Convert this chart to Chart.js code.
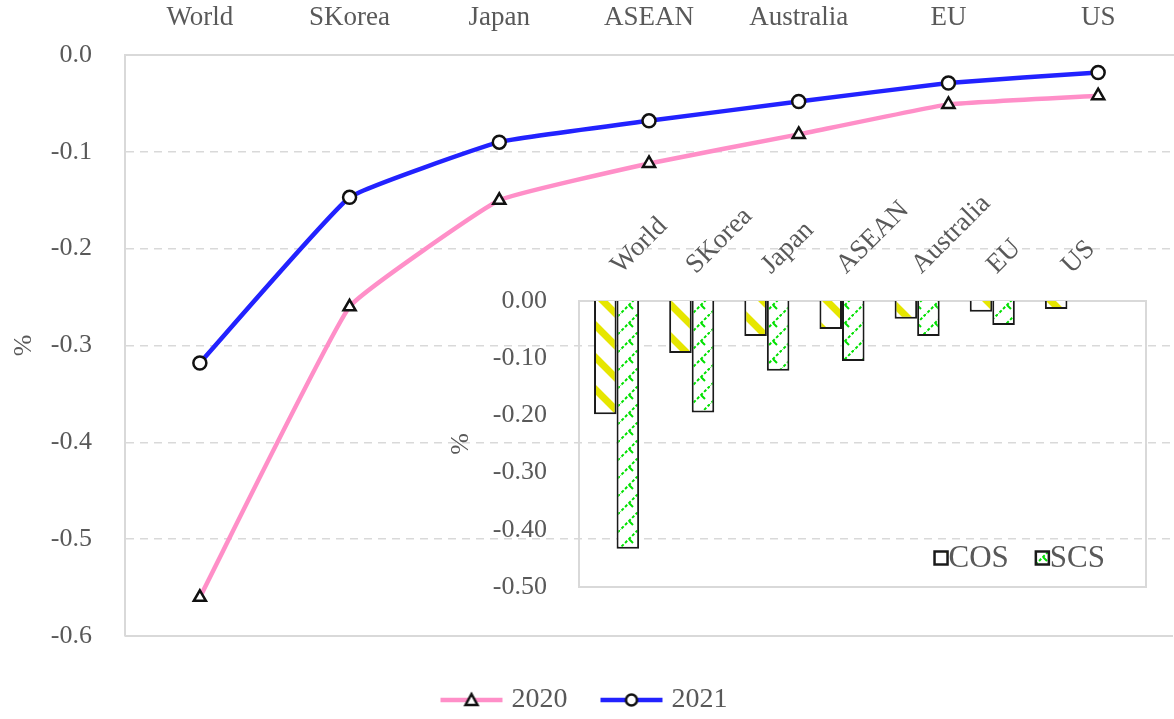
<!DOCTYPE html>
<html>
<head>
<meta charset="utf-8">
<script src="https://cdn.jsdelivr.net/npm/chart.js@4.4.0/dist/chart.umd.min.js"></script>
<style>
html, body { margin: 0; padding: 0; background: #fff; overflow: hidden; }
#wrap { position: relative; width: 1174px; height: 719px; }
#main { position: absolute; left: 0; top: 0; }
#inset { position: absolute; left: 440px; top: 170px; }
</style>
</head>
<body>
<div id="wrap">
    <canvas id="main" width="1174" height="719"></canvas>
    <canvas id="inset" width="734" height="430"></canvas>
</div>
<script>
// data
const regions = ['World', 'SKorea', 'Japan', 'ASEAN', 'Australia', 'EU', 'US'];
const y2020 = [-0.56, -0.26, -0.15, -0.112, -0.082, -0.051, -0.042];
const y2021 = [-0.318, -0.147, -0.09, -0.068, -0.048, -0.029, -0.018];
const cosVals = [-0.198, -0.091, -0.061, -0.049, -0.031, -0.019, -0.014];
const scsVals = [-0.433, -0.195, -0.122, -0.105, -0.061, -0.042, 0];

const textGray = '#595959';
const gridGray = '#d9d9d9';
const serif = '"Liberation Serif", "Times New Roman", serif';
const pink = '#ff8fc8';
const blue = '#2222ff';

// small picture of line + marker for the main legend
function legendMarker(color, shape) {
    const c = document.createElement('canvas');
    c.width = 64; c.height = 18;
    const g = c.getContext('2d');
    g.strokeStyle = color; g.lineWidth = 4.5;
    g.beginPath(); g.moveTo(1, 9); g.lineTo(63, 9); g.stroke();
    g.fillStyle = '#fff'; g.strokeStyle = '#111'; g.lineWidth = 2.5;
    g.beginPath();
    if (shape === 'circle') {
        g.arc(32, 9, 5.5, 0, Math.PI * 2);
    } else {
        g.moveTo(32, 3); g.lineTo(38, 14); g.lineTo(26, 14); g.closePath();
    }
    g.fill(); g.stroke();
    return c;
}
const legendImgs = [legendMarker(pink, 'triangle'), legendMarker(blue, 'circle')];

const bottomFrame = {
    id: 'bottomFrame',
    afterDraw(chart) {
        const {ctx, chartArea} = chart;
        ctx.save();
        ctx.strokeStyle = gridGray; ctx.lineWidth = 2;
        ctx.beginPath();
        ctx.moveTo(chartArea.left, chartArea.bottom);
        ctx.lineTo(chartArea.right, chartArea.bottom);
        ctx.stroke();
        ctx.restore();
    }
};

function noPad(s) {
    s.paddingLeft = 0; s.paddingRight = 0; s.paddingTop = 0; s.paddingBottom = 0;
}

new Chart(document.getElementById('main').getContext('2d'), {
    type: 'line',
    data: {
        labels: regions,
        datasets: [{
            label: '2020',
            data: y2020,
            borderColor: pink,
            borderWidth: 4.5,
            tension: 0.1,
            pointStyle: 'triangle',
            pointRadius: 7,
            pointBackgroundColor: '#fff',
            pointBorderColor: '#111',
            pointBorderWidth: 2.5
        }, {
            label: '2021',
            data: y2021,
            borderColor: blue,
            borderWidth: 4.5,
            tension: 0.1,
            pointStyle: 'circle',
            pointRadius: 6.5,
            pointBackgroundColor: '#fff',
            pointBorderColor: '#111',
            pointBorderWidth: 2.5
        }]
    },
    options: {
        responsive: false,
        animation: false,
        layout: { autoPadding: false, padding: { right: 1, bottom: -5 } },
        plugins: {
            tooltip: { enabled: false },
            legend: {
                position: 'bottom',
                title: { display: true, text: '', font: { size: 10 }, padding: 0 },
                labels: {
                    usePointStyle: true,
                    pointStyleWidth: 52,
                    color: textGray,
                    font: { family: serif, size: 28 },
                    padding: 38,
                    generateLabels(chart) {
                        const items = Chart.defaults.plugins.legend.labels.generateLabels(chart);
                        items.forEach((it, i) => { it.pointStyle = legendImgs[i]; });
                        return items;
                    }
                }
            }
        },
        scales: {
            x: {
                position: 'top',
                offset: true,
                grid: { display: false, drawTicks: false },
                border: { color: gridGray, width: 2 },
                ticks: { color: textGray, font: { family: serif, size: 27 }, padding: 21, maxRotation: 0 },
                afterFit(s) { s.height = 55; noPad(s); }
            },
            y: {
                min: -0.6,
                max: 0,
                ticks: {
                    stepSize: 0.1,
                    color: textGray,
                    font: { family: serif, size: 26 },
                    padding: 33,
                    callback: v => (Math.abs(v) < 1e-9 ? 0 : v).toFixed(1)
                },
                grid: { color: gridGray, lineWidth: 1.5, drawTicks: false },
                border: { color: gridGray, width: 2, dash: [8, 6] },
                title: { display: true, text: '%', color: textGray, font: { family: serif, size: 26 }, padding: { top: 9, bottom: 0 } },
                afterFit(s) { s.width = 125; noPad(s); }
            }
        }
    },
    plugins: [bottomFrame]
});

// inset bar chart
const insetCtx = document.getElementById('inset').getContext('2d');

function cosPattern() {
    const c = document.createElement('canvas');
    c.width = 32; c.height = 32;
    const g = c.getContext('2d');
    g.fillStyle = '#fff'; g.fillRect(0, 0, 32, 32);
    g.strokeStyle = '#e6e600'; g.lineWidth = 7;
    g.beginPath();
    g.moveTo(-8, -8); g.lineTo(40, 40);
    g.moveTo(-8, 24); g.lineTo(8, 40);
    g.moveTo(24, -8); g.lineTo(40, 8);
    g.stroke();
    return insetCtx.createPattern(c, 'repeat');
}

function scsPattern() {
    const c = document.createElement('canvas');
    c.width = 18; c.height = 18;
    const g = c.getContext('2d');
    g.fillStyle = '#fff'; g.fillRect(0, 0, 18, 18);
    g.strokeStyle = '#00e000'; g.lineWidth = 2;
    g.setLineDash([3, 2]);
    g.beginPath();
    g.moveTo(-2, 20); g.lineTo(20, -2);
    g.stroke();
    g.setLineDash([]);
    g.beginPath();
    g.moveTo(9, 9); g.lineTo(13, 13);
    g.moveTo(0, 18); g.lineTo(3, 21);
    g.stroke();
    return insetCtx.createPattern(c, 'repeat');
}

const frameExtra = 41;
const insetFrame = {
    id: 'insetFrame',
    beforeDatasetsDraw(chart) {
        const {ctx, chartArea} = chart;
        ctx.save();
        ctx.strokeStyle = gridGray; ctx.lineWidth = 2;
        ctx.strokeRect(chartArea.left, chartArea.top, chartArea.right - chartArea.left + frameExtra, chartArea.bottom - chartArea.top);
        ctx.restore();
    }
};

const insetLegend = {
    id: 'insetLegend',
    afterDraw(chart) {
        const {ctx, chartArea} = chart;
        const box = 13, gapBox = 1, gapItem = 27;
        ctx.save();
        ctx.font = '31px ' + serif;
        const items = chart.data.datasets.map(ds => ({ds, w: ctx.measureText(ds.label).width}));
        const total = items.reduce((s, it) => s + box + gapBox + it.w, 0) + gapItem * (items.length - 1);
        let cx = chartArea.right - total;
        const cy = chartArea.bottom - 29;
        items.forEach(it => {
            ctx.fillStyle = it.ds.backgroundColor;
            ctx.fillRect(cx, cy - box / 2, box, box);
            ctx.strokeStyle = '#1a1a1a'; ctx.lineWidth = 2.5;
            ctx.strokeRect(cx, cy - box / 2, box, box);
            ctx.fillStyle = textGray;
            ctx.textBaseline = 'middle';
            ctx.fillText(it.ds.label, cx + box + gapBox, cy + 1);
            cx += box + gapBox + it.w + gapItem;
        });
        ctx.restore();
    }
};

new Chart(insetCtx, {
    type: 'bar',
    data: {
        labels: regions,
        datasets: [{
            label: 'COS',
            data: cosVals,
            backgroundColor: cosPattern(),
            borderColor: '#1a1a1a',
            borderWidth: 2
        }, {
            label: 'SCS',
            data: scsVals,
            backgroundColor: scsPattern(),
            borderColor: '#1a1a1a',
            borderWidth: 2
        }]
    },
    options: {
        responsive: false,
        animation: false,
        layout: { autoPadding: false, padding: { right: 69, bottom: 13 } },
        datasets: { bar: { categoryPercentage: 0.6, barPercentage: 1 } },
        plugins: { legend: { display: false }, tooltip: { enabled: false } },
        scales: {
            x: {
                position: 'top',
                offset: true,
                grid: { display: false, drawTicks: false },
                border: { display: false },
                ticks: { color: textGray, font: { family: serif, size: 27 }, minRotation: 45, maxRotation: 45, padding: 20, labelOffset: 22, autoSkip: false },
                afterFit(s) { s.height = 131; noPad(s); }
            },
            y: {
                min: -0.5,
                max: 0,
                ticks: {
                    stepSize: 0.1,
                    color: textGray,
                    font: { family: serif, size: 26 },
                    padding: 32,
                    callback: v => (Math.abs(v) < 1e-9 ? 0 : v).toFixed(2)
                },
                grid: { display: false, drawTicks: false },
                border: { display: false },
                title: { display: true, text: '%', color: textGray, font: { family: serif, size: 26 }, padding: { top: 6, bottom: 0 } },
                afterFit(s) { s.width = 139; noPad(s); }
            }
        }
    },
    plugins: [insetFrame, insetLegend]
});
</script>
</body>
</html>
